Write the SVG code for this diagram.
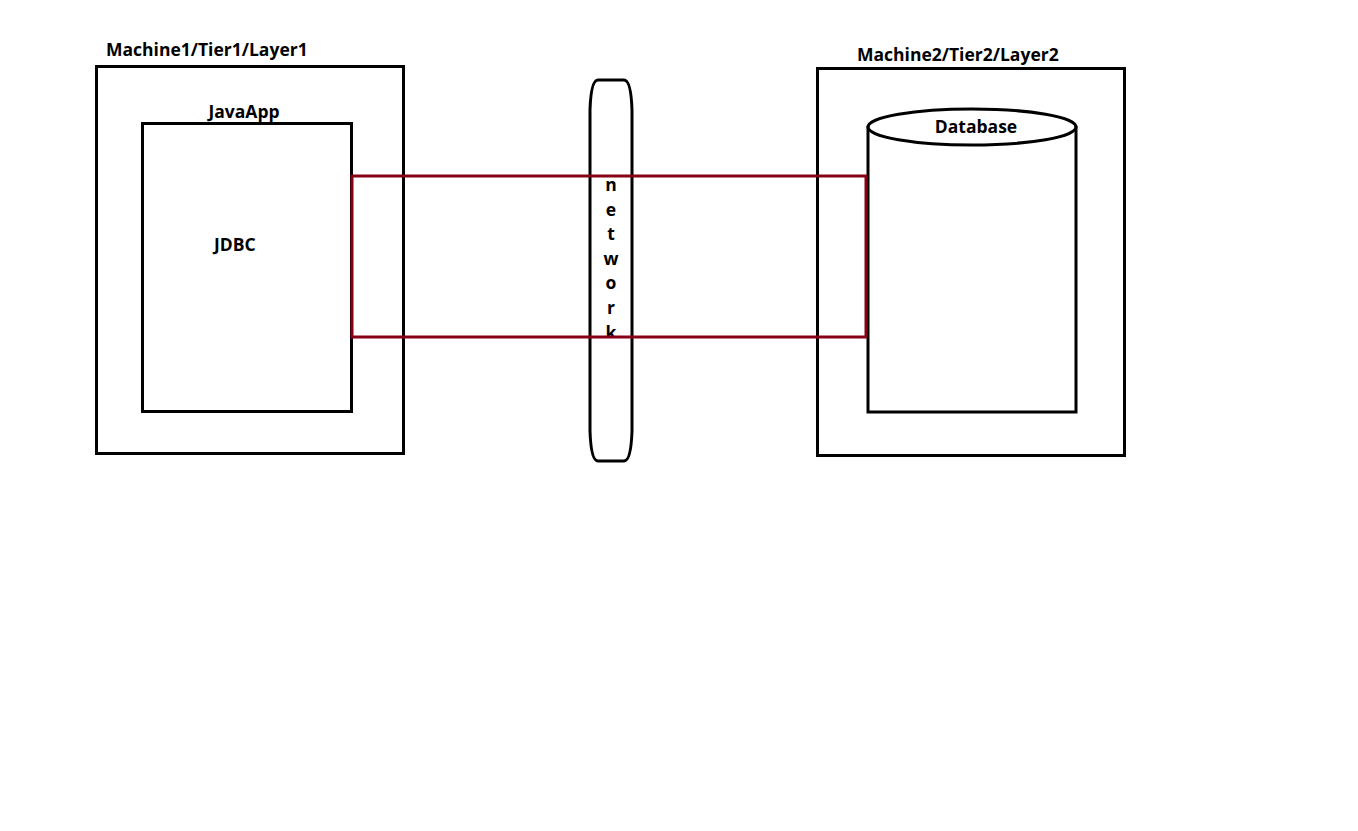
<svg xmlns="http://www.w3.org/2000/svg" width="1358" height="831" viewBox="0 0 1358 831">
<style>
.box{fill:none;stroke:#000;stroke-width:3}
.lbl{font-family:"Open Sans","Noto Sans","Liberation Sans",sans-serif;font-weight:bold;font-size:17.5px;fill:#000}
.link{fill:none;stroke:#880015;stroke-width:3}
</style>
<defs><clipPath id="netclip"><rect x="580" y="80" width="60" height="256"/></clipPath></defs>
<rect width="1358" height="831" fill="#fff"/>
<g id="machine1">
<rect class="box" x="96.5" y="66.5" width="307" height="387"/>
<text class="lbl" x="106" y="56">Machine1/Tier1/Layer1</text>
</g>
<g id="javaapp">
<rect class="box" x="142.5" y="123.5" width="209" height="288"/>
<text class="lbl" x="244" y="118" text-anchor="middle">JavaApp</text>
<text class="lbl" x="214" y="251">JDBC</text>
</g>
<g id="machine2">
<rect class="box" x="817.5" y="68.5" width="307" height="387"/>
<text class="lbl" x="857" y="61">Machine2/Tier2/Layer2</text>
</g>
<g id="database">
<path class="box" d="M868,126 V412 H1076 V126"/>
<ellipse class="box" cx="972" cy="127" rx="104" ry="18"/>
<text class="lbl" x="976" y="133" text-anchor="middle">Database</text>
</g>
<g id="network">
<path class="box" d="M598,80 H624 Q631,80 632,110 V431 Q631,461 624,461 H598 Q591,461 590,431 V110 Q591,80 598,80 Z"/>
<g clip-path="url(#netclip)">
<text class="lbl" x="611" y="191" text-anchor="middle">n</text>
<text class="lbl" x="611" y="216" text-anchor="middle">e</text>
<text class="lbl" x="611" y="240" text-anchor="middle">t</text>
<text class="lbl" x="611" y="265" text-anchor="middle">w</text>
<text class="lbl" x="611" y="289" text-anchor="middle">o</text>
<text class="lbl" x="611" y="314" text-anchor="middle">r</text>
<text class="lbl" x="611" y="339" text-anchor="middle">k</text>
</g>
</g>
<g id="connectors">
<rect class="link" x="352" y="176" width="514" height="161"/>
</g>
</svg>
